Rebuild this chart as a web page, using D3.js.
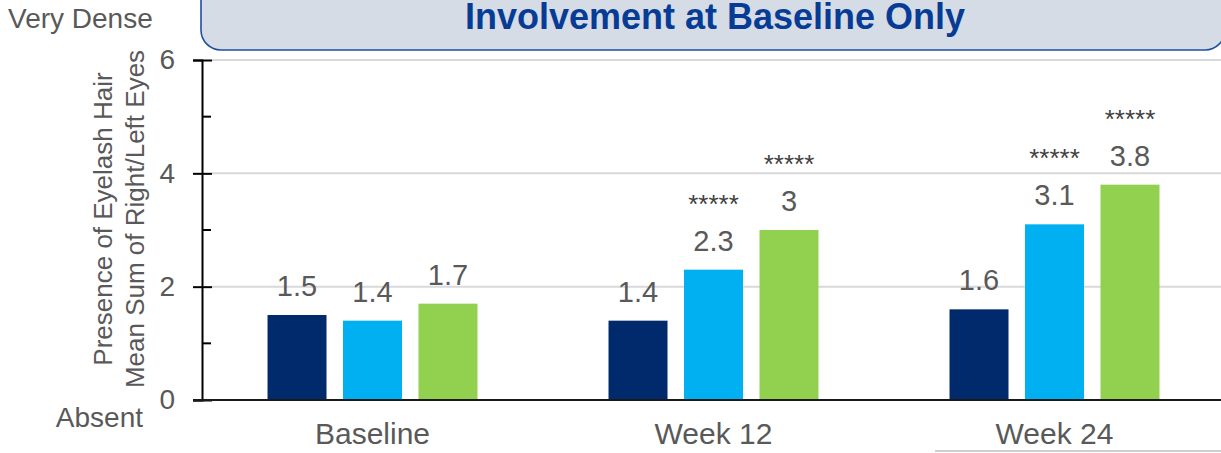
<!DOCTYPE html>
<html lang="en">
<head>
    <meta charset="UTF-8">
    <title>Involvement at Baseline Only</title>
    <script src="https://d3js.org/d3.v7.min.js"></script>
    <style>
        body {
            margin: 0;
            background: #ffffff;
            font-family: "Liberation Sans", Arial, sans-serif;
        }
        svg text {
            fill: #595959;
        }
    </style>
</head>
<body>
<svg id="chart"></svg>
<script>
    // data
    var categories = ['Baseline', 'Week 12', 'Week 24'];
    var series = ['Series 1', 'Series 2', 'Series 3'];
    var colors = ['#002a6c', '#00b0f0', '#92d050'];
    var values = [
        [1.5, 1.4, 1.7],   // Baseline
        [1.4, 2.3, 3.0],   // Week 12
        [1.6, 3.1, 3.8]    // Week 24
    ];
    var stars = [
        ['', '', ''],
        ['', '*****', '*****'],
        ['', '*****', '*****']
    ];
    var yTicks = [0, 2, 4, 6];
    var yMinorTicks = [1, 3, 5];

    var w = 1221, h = 453;
    var m = {top: 60, left: 202, bottom: 53, right: -4};
    var innerH = h - m.top - m.bottom;

    var svg = d3.select('#chart').attr('width', w).attr('height', h);

    var x0 = d3.scaleBand()
        .domain(categories)
        .range([m.left, w - m.right]);
    var x1 = d3.scaleBand()
        .domain(series)
        .range([0, x0.bandwidth()])
        .paddingInner(0.2185)
        .paddingOuter(0.868);
    var y = d3.scaleLinear()
        .domain([0, 6])
        .range([m.top + innerH, m.top]);

    // title box (cut by the top edge, as in the slide)
    svg.append('rect')
        .attr('x', 201).attr('y', -30)
        .attr('width', 1024).attr('height', 80)
        .attr('rx', 20).attr('ry', 20)
        .attr('fill', '#d6dce5')
        .attr('stroke', '#1f4fa3')
        .attr('stroke-width', 1.6);
    svg.append('text')
        .attr('x', 715).attr('y', 29)
        .attr('text-anchor', 'middle')
        .attr('font-size', '36px')
        .attr('font-weight', 'bold')
        .style('fill', '#073c96')
        .text('Involvement at Baseline Only');

    // gridlines
    svg.append('g').selectAll('line')
        .data(yTicks.filter(function(d){ return d > 0; }))
        .enter().append('line')
        .attr('x1', m.left + 10).attr('x2', w)
        .attr('y1', function(d){ return y(d); })
        .attr('y2', function(d){ return y(d); })
        .attr('stroke', '#d9d9d9')
        .attr('stroke-width', 2);

    // bars
    var groups = svg.append('g').selectAll('g')
        .data(categories)
        .enter().append('g')
        .attr('transform', function(d){ return 'translate(' + x0(d) + ',0)'; });

    function rows(d, i) {
        return series.map(function(s, j){ return {s: s, j: j, v: values[i][j], st: stars[i][j]}; });
    }

    groups.selectAll('rect')
        .data(rows)
        .enter().append('rect')
        .attr('x', function(d){ return x1(d.s); })
        .attr('y', function(d){ return y(d.v); })
        .attr('width', x1.bandwidth())
        .attr('height', function(d){ return y(0) - y(d.v); })
        .attr('fill', function(d){ return colors[d.j]; });

    // value labels
    groups.selectAll('text.val')
        .data(rows)
        .enter().append('text')
        .attr('class', 'val')
        .attr('x', function(d){ return x1(d.s) + x1.bandwidth() / 2; })
        .attr('y', function(d){ return y(d.v) - 19; })
        .attr('text-anchor', 'middle')
        .attr('font-size', '29px')
        .text(function(d){ return String(d.v); });

    // significance stars
    groups.selectAll('text.star')
        .data(function(d, i){ return rows(d, i).filter(function(r){ return r.st; }); })
        .enter().append('text')
        .attr('class', 'star')
        .attr('x', function(d){ return x1(d.s) + x1.bandwidth() / 2; })
        .attr('y', function(d){ return y(d.v) - 57; })
        .attr('text-anchor', 'middle')
        .attr('font-size', '26px')
        .style('fill', '#404040')
        .text(function(d){ return d.st; });

    // y axis
    var yAxis = d3.axisLeft(y)
        .tickValues(yTicks)
        .tickSize(9)
        .tickPadding(18)
        .tickFormat(d3.format('d'));
    var gy = svg.append('g')
        .attr('transform', 'translate(' + m.left + ',0)')
        .call(yAxis);
    gy.select('.domain').attr('stroke', '#000').attr('stroke-width', 2);
    gy.selectAll('.tick line').attr('x2', 10).attr('x1', -9).attr('stroke', '#000').attr('stroke-width', 2);
    gy.selectAll('.tick text')
        .attr('x', -27)
        .attr('font-size', '28px')
        .attr('font-family', '"Liberation Sans", Arial, sans-serif')
        .style('fill', '#595959');

    svg.append('g').selectAll('line')
        .data(yMinorTicks)
        .enter().append('line')
        .attr('x1', m.left).attr('x2', m.left + 9)
        .attr('y1', function(d){ return y(d); })
        .attr('y2', function(d){ return y(d); })
        .attr('stroke', '#000')
        .attr('stroke-width', 2);

    // x axis line
    svg.append('line')
        .attr('x1', 193).attr('x2', w)
        .attr('y1', y(0)).attr('y2', y(0))
        .attr('stroke', '#1a1a1a')
        .attr('stroke-width', 2);

    // category labels
    svg.append('g').selectAll('text')
        .data(categories)
        .enter().append('text')
        .attr('x', function(d){ return x0(d) + x0.bandwidth() / 2; })
        .attr('y', 444)
        .attr('text-anchor', 'middle')
        .attr('font-size', '30px')
        .text(function(d){ return d; });

    // underline under last label
    svg.append('line')
        .attr('x1', 935).attr('x2', w)
        .attr('y1', 451).attr('y2', 451)
        .attr('stroke', '#bfbfbf')
        .attr('stroke-width', 1.5);

    // scale end labels
    svg.append('text')
        .attr('x', 8).attr('y', 28)
        .attr('font-size', '28px')
        .text('Very Dense');
    svg.append('text')
        .attr('x', 143).attr('y', 427)
        .attr('text-anchor', 'end')
        .attr('font-size', '28px')
        .text('Absent');

    // y axis title
    var ty = svg.append('text')
        .attr('transform', 'translate(0,' + 219 + ') rotate(-90)')
        .attr('text-anchor', 'middle')
        .attr('font-size', '26px');
    ty.append('tspan').attr('x', 0).attr('y', 112).text('Presence of Eyelash Hair');
    ty.append('tspan').attr('x', 0).attr('y', 144).text('Mean Sum of Right/Left Eyes');
</script>
</body>
</html>
